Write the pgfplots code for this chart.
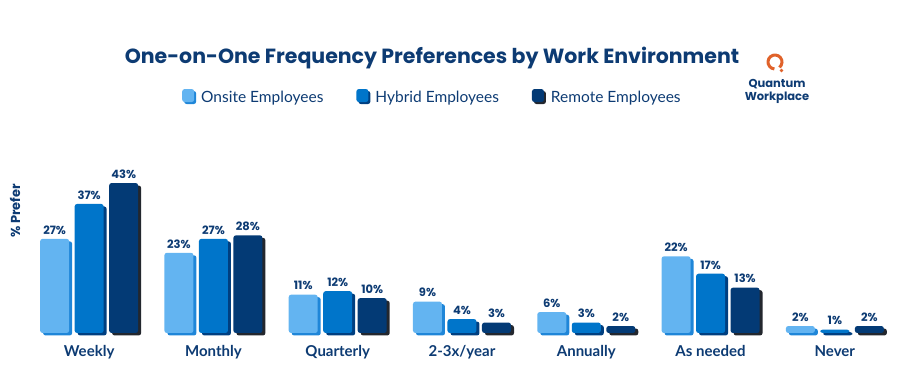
\documentclass[border=0pt]{standalone}
\usepackage{fontspec}
\setmainfont{Lato}
\newfontfamily\pop{Poppins}
\usepackage{pgfplots}
\pgfplotsset{compat=1.18}
\definecolor{onsite}{HTML}{63B4F1}
\definecolor{hybrid}{HTML}{0075CA}
\definecolor{remote}{HTML}{033A75}
\definecolor{onsiteS}{HTML}{1F86D8}
\definecolor{hybridS}{HTML}{003F80}
\definecolor{remoteS}{HTML}{23272E}
\definecolor{navy}{HTML}{0D3B73}
\definecolor{qorange}{HTML}{E0622A}
\begin{document}
\begin{tikzpicture}[x=1pt,y=1pt]
\path[use as bounding box] (0,0) rectangle (900,391);
\begin{axis}[
  at={(27pt,58pt)}, anchor=south west,
  scale only axis, width=870pt, height=174.4pt,
  xmin=-0.5, xmax=6.5, ymin=0, ymax=50,
  ybar, bar width=29pt,
  axis line style={draw=none}, tick style={draw=none},
  ytick=\empty,
  xtick={0,1,2,3,4,5,6},
  xticklabels={Weekly,Monthly,Quarterly,2-3x/year,Annually,As needed,Never},
  xticklabel style={font=\fontsize{15}{17}\selectfont\bfseries, text=navy, yshift=-5pt},
  clip=false,
  /pgf/number format/assume math mode=true,
  every node near coord/.append style={font=\pop\bfseries\fontsize{11.5}{13}\selectfont, text=navy, yshift=1pt},
  nodes near coords={\pgfmathprintnumber{\pgfplotspointmeta}\%},
  legend style={at={(0.466,1.353)}, anchor=center, draw=none, fill=none,
    legend columns=3, font=\fontsize{15.5}{17}\selectfont, text=navy,
    /tikz/every even column/.append style={column sep=31pt},
    /tikz/every odd column/.append style={column sep=3pt}},
]
% shadows
\addplot[fill=onsiteS, draw=none, bar shift=-31.5pt, yshift=-2.5pt, forget plot, nodes near coords={}, rounded corners=2.5pt]
  coordinates {(0,27) (1,23) (2,11) (3,9) (4,6) (5,22) (6,2)};
\addplot[fill=hybridS, draw=none, bar shift=3pt, yshift=-2.5pt, forget plot, nodes near coords={}, rounded corners=2.5pt]
  coordinates {(0,37) (1,27) (2,12) (3,4) (4,3) (5,17) (6,1)};
\addplot[fill=remoteS, draw=none, bar shift=37.5pt, yshift=-2.5pt, forget plot, nodes near coords={}, rounded corners=2.5pt]
  coordinates {(0,43) (1,28) (2,10) (3,3) (4,2) (5,13) (6,2)};
% bars
\addplot[fill=onsite, draw=none, bar shift=-34.5pt, rounded corners=2.5pt,
  legend image code/.code={\fill[onsiteS] (2pt,-7pt) rectangle (14pt,6pt);\fill[onsite] (0pt,-5pt) rectangle (12pt,8pt);}]
  coordinates {(0,27) (1,23) (2,11) (3,9) (4,6) (5,22) (6,2)};
\addlegendentry{Onsite Employees}
\addplot[fill=hybrid, draw=none, bar shift=0pt, rounded corners=2.5pt,
  legend image code/.code={\fill[hybridS] (2pt,-7pt) rectangle (14pt,6pt);\fill[hybrid] (0pt,-5pt) rectangle (12pt,8pt);}]
  coordinates {(0,37) (1,27) (2,12) (3,4) (4,3) (5,17) (6,1)};
\addlegendentry{Hybrid Employees}
\addplot[fill=remote, draw=none, bar shift=34.5pt, rounded corners=2.5pt,
  legend image code/.code={\fill[remoteS] (2pt,-7pt) rectangle (14pt,6pt);\fill[remote] (0pt,-5pt) rectangle (12pt,8pt);}]
  coordinates {(0,43) (1,28) (2,10) (3,3) (4,2) (5,13) (6,2)};
\addlegendentry{Remote Employees}
\end{axis}
\node[font=\pop\bfseries\fontsize{20.5}{22}\selectfont, text=navy] at (432,333) {One-on-One Frequency Preferences by Work Environment};
\node[font=\pop\bfseries\fontsize{13}{15}\selectfont, text=navy, rotate=90] at (15,180) {\% Prefer};
\draw[qorange, line width=3pt] (775,329) ++(-50:7) arc(-50:265:7);
\fill[qorange] (781.5,320.5) circle (1.8);
\node[font=\pop\bfseries\fontsize{11.5}{12}\selectfont, text=navy, inner sep=0] at (777,307) {Quantum};
\node[font=\pop\bfseries\fontsize{11.5}{12}\selectfont, text=navy, inner sep=0] at (777,293) {Workplace};
\end{tikzpicture}
\end{document}
